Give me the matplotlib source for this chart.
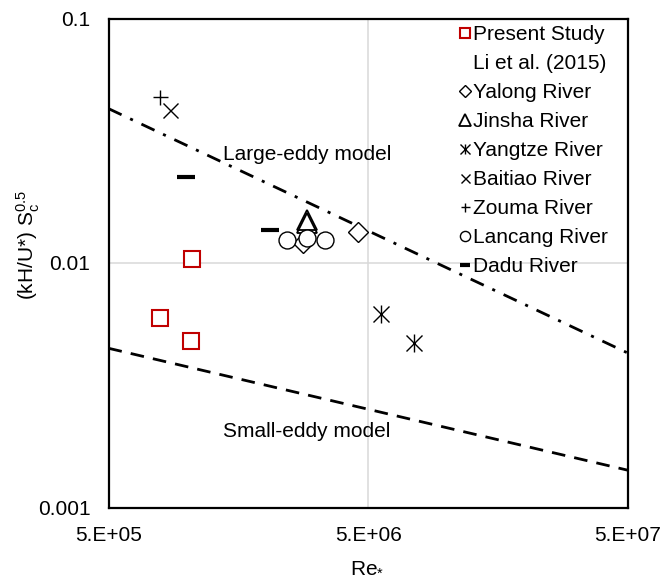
import matplotlib
matplotlib.use('Agg')
import matplotlib.pyplot as plt
from matplotlib.lines import Line2D

plt.rcParams['font.family'] = ['Liberation Sans', 'DejaVu Sans']
plt.rcParams['mathtext.fontset'] = 'custom'
plt.rcParams['mathtext.rm'] = 'Liberation Sans'
plt.rcParams['mathtext.it'] = 'Liberation Sans'

# measured points, Re* vs (kH/U*) Sc^0.5
present_re = [1.05e6, 7.9e5, 1.04e6]
present_k = [0.01038, 0.00594, 0.0048]

yalong_re = [2.81e6, 4.58e6]
yalong_k = [0.01204, 0.01343]

jinsha_re = [2.90e6, 2.90e6]
jinsha_k = [0.01499, 0.01464]

yangtze_re = [5.6e6, 7.5e6]
yangtze_k = [0.00617, 0.00472]

baitiao_re = [8.6e5]
baitiao_k = [0.0422]

zouma_re = [7.9e5]
zouma_k = [0.0476]

lancang_re = [2.43e6, 2.90e6, 3.41e6]
lancang_k = [0.01242, 0.01262, 0.01242]

dadu_re = [9.9e5, 2.09e6]
dadu_k = [0.02254, 0.01365]

# model lines (end points over the plotted Re range)
model_re = [5e5, 5e7]
large_eddy_k = [0.0428, 0.00428]
small_eddy_k = [0.00448, 0.00142]

x_ticks = [5e5, 5e6, 5e7]
x_ticklabels = ['5.E+05', '5.E+06', '5.E+07']
y_ticks = [0.001, 0.01, 0.1]
y_ticklabels = ['0.001', '0.01', '0.1']

fig = plt.figure(figsize=(6.63, 5.80), dpi=100)
ax = fig.add_axes([108.5 / 663, 1 - 507.5 / 580, 519.5 / 663, 489 / 580])

ax.set_xscale('log')
ax.set_yscale('log')
ax.set_xlim(5e5, 5e7)
ax.set_ylim(0.001, 0.1)

ax.plot(model_re, large_eddy_k, color='black', lw=2.0,
        dashes=(5.2, 3.4, 1.1, 3.4))
ax.plot(model_re, small_eddy_k, color='black', lw=2.0, dashes=(4.9, 3.3))

red = '#C00000'
h_present, = ax.plot(present_re, present_k, 's', ms=12.2, mfc='white',
                     mec=red, mew=1.5, ls='none')
h_yalong, = ax.plot(yalong_re, yalong_k, 'D', ms=10.5, mfc='white',
                    mec='black', mew=1.0, ls='none')
h_jinsha, = ax.plot(jinsha_re, jinsha_k, '^', ms=14.5, mfc='none',
                    mec='black', mew=1.3, ls='none')
h_yx, = ax.plot(yangtze_re, yangtze_k, 'x', ms=11, mec='black', mew=1.0,
                ls='none')
h_yv, = ax.plot(yangtze_re, yangtze_k, '|', ms=13, mec='black', mew=1.0,
                ls='none')
h_baitiao, = ax.plot(baitiao_re, baitiao_k, 'x', ms=10.8, mec='black',
                     mew=1.0, ls='none')
h_zouma, = ax.plot(zouma_re, zouma_k, '+', ms=10.8, mec='black', mew=1.0,
                   ls='none')
h_lancang, = ax.plot(lancang_re, lancang_k, 'o', ms=12.2, mfc='white',
                     mec='black', mew=1.0, ls='none')
h_dadu, = ax.plot(dadu_re, dadu_k, '_', ms=13, mec='black', mew=3.0,
                  ls='none')

ax.text(0.2204, 0.7229, 'Large-eddy model', transform=ax.transAxes,
        fontsize=15, ha='left', va='center')
ax.text(0.2204, 0.1544, 'Small-eddy model', transform=ax.transAxes,
        fontsize=15, ha='left', va='center')

ax.set_xticks(x_ticks)
ax.set_xticklabels(x_ticklabels)
ax.set_yticks(y_ticks)
ax.set_yticklabels(y_ticklabels)
ax.minorticks_off()
ax.tick_params(axis='both', length=0, labelsize=15)
ax.tick_params(axis='x', pad=13)
ax.tick_params(axis='y', pad=13)

ax.grid(True, color='#D9D9D9', lw=1.1)
ax.set_axisbelow(True)
for sp in ax.spines.values():
    sp.set_linewidth(1.6)
    sp.set_color('black')

fig.text(367 / 663, 1 - 566 / 580, 'Re$_\\mathregular{*}$', fontsize=15,
         ha='center', va='center')
fig.text(28 / 663, 1 - 245 / 580,
         '(kH/U*) S$_\\mathregular{c}^\\mathregular{0.5}$', fontsize=15,
         rotation=90, ha='center', va='center')

blank = Line2D([], [], ls='none', marker='none')
handles = [h_present, blank, h_yalong, h_jinsha, (h_yx, h_yv), h_baitiao,
           h_zouma, h_lancang, h_dadu]
labels = ['Present Study', 'Li et al. (2015)', 'Yalong River', 'Jinsha River',
          'Yangtze River', 'Baitiao River', 'Zouma River', 'Lancang River',
          'Dadu River']
ax.legend(handles, labels, loc='upper left',
          bbox_to_anchor=(459.8 / 663, 1 - 25 / 580),
          bbox_transform=fig.transFigure, frameon=False, fontsize=15,
          borderpad=0, borderaxespad=0, handlelength=0.5,
          handletextpad=0.13, labelspacing=0.48, markerscale=0.6)

fig.savefig('out.png', dpi=100)
